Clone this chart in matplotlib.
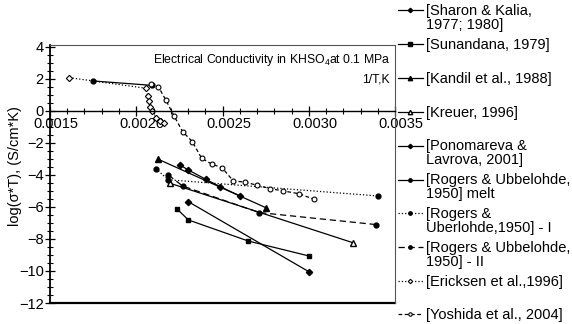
import matplotlib
matplotlib.use('Agg')
import matplotlib.pyplot as plt
import matplotlib.transforms as mtransforms
import numpy as np
from matplotlib.legend_handler import HandlerLine2D
from matplotlib.ticker import MultipleLocator, FormatStrFormatter

plt.rcParams['font.family'] = ['Liberation Sans', 'DejaVu Sans']
plt.rcParams['font.size'] = 10.5

# series (x = 1/T, y = log(sigma*T))
sharon_x = [0.002302, 0.003003]
sharon_y = [-5.67, -10.06]
sunandana_x = [0.002238, 0.002302, 0.002650, 0.003001]
sunandana_y = [-6.14, -6.81, -8.13, -9.06]
kandil_x = [0.002128, 0.002750]
kandil_y = [-3.02, -6.04]
kreuer_x = [0.002196, 0.003255]
kreuer_y = [-4.52, -8.23]
ponomareva_x = [0.002254, 0.002302, 0.002403, 0.002486, 0.002601]
ponomareva_y = [-3.38, -3.69, -4.27, -4.73, -5.31]
melt_x = [0.001747, 0.002090]
melt_y = [1.875, 1.60]
rogers1_x = [0.002113, 0.002186, 0.003400]
rogers1_y = [-3.60, -4.30, -5.31]
rogers2_x = [0.002186, 0.002269, 0.002713, 0.003390]
rogers2_y = [-4.00, -4.69, -6.35, -7.10]
ericksen_x = [0.001612, 0.002055, 0.002066, 0.002072, 0.002080, 0.002090,
              0.002115, 0.002138, 0.002161]
ericksen_y = [2.08, 1.42, 0.94, 0.63, 0.25, 0.0, -0.42, -0.63, -0.77]
yoshida_x = [0.002084, 0.002128, 0.002172, 0.002219, 0.002269, 0.002325,
             0.002379, 0.002439, 0.002497, 0.002563, 0.002630, 0.002702,
             0.002775, 0.002853, 0.002943, 0.003030]
yoshida_y = [1.70, 1.52, 0.67, -0.31, -1.29, -1.92, -2.96, -3.33, -3.54,
             -4.38, -4.44, -4.65, -4.85, -5.00, -5.17, -5.52]

# legend entries get two text lines so they sit evenly spaced
labels = [
    '[Sharon & Kalia,\n1977; 1980]',
    '[Sunandana, 1979]\n',
    '[Kandil et al., 1988]\n',
    '[Kreuer, 1996]\n',
    '[Ponomareva &\nLavrova, 2001]',
    '[Rogers & Ubbelohde,\n1950] melt',
    '[Rogers &\nUberlohde,1950] - I',
    '[Rogers & Ubbelohde,\n1950] - II',
    '[Ericksen et al.,1996]\n',
    '[Yoshida et al., 2004]',
]


class FirstLineHandler(HandlerLine2D):
    """Put the legend handle next to the first line of a two-line label."""

    def create_artists(self, legend, orig_handle, xdescent, ydescent,
                       width, height, fontsize, trans):
        artists = super().create_artists(legend, orig_handle, xdescent, ydescent,
                                         width, height, fontsize, trans)
        for a in artists:
            a.set_ydata(np.asarray(a.get_ydata()) + 0.55 * fontsize)
        return artists


fig = plt.figure(figsize=(5.72, 3.24), dpi=100)
ax = fig.add_axes([0.0874, 0.0648, 0.6032, 0.7963])

k = dict(color='black', lw=0.9, ms=3.5)
series = [
    (sharon_x, sharon_y, dict(ls='-', marker='D', ms=3.2)),
    (sunandana_x, sunandana_y, dict(ls='-', marker='s')),
    (kandil_x, kandil_y, dict(ls='-', marker='^', ms=4.5)),
    (kreuer_x, kreuer_y, dict(ls='-', marker='^', ms=4.5, mfc='white')),
    (ponomareva_x, ponomareva_y, dict(ls='-', marker='D', ms=3.2)),
    (melt_x, melt_y, dict(ls='-', marker='o')),
    (rogers1_x, rogers1_y, dict(ls=':', marker='o')),
    (rogers2_x, rogers2_y, dict(ls=(0, (5, 3)), marker='o')),
    (ericksen_x, ericksen_y, dict(ls=':', marker='D', ms=3.2, mfc='white', mew=0.8)),
    (yoshida_x, yoshida_y, dict(ls=(0, (3, 2)), marker='o', mfc='white', mew=0.8)),
]
handles = []
for (xs, ys, st), lab in zip(series, labels):
    opts = dict(k)
    opts.update(st)
    line, = ax.plot(xs, ys, label=lab, **opts)
    handles.append(line)

ax.set_xlim(0.0015, 0.0035)
ax.set_ylim(-12, 4.12)

# frame: x axis through zero, thin grey top/right, bottom rule at -12
ax.spines['bottom'].set_position(('data', 0))
ax.spines['bottom'].set_linewidth(1.0)
ax.spines['left'].set_linewidth(1.3)
for side in ['top', 'right']:
    ax.spines[side].set_color('#555555')
    ax.spines[side].set_linewidth(0.8)
ax.axhline(-12, color='black', lw=1.6, clip_on=False)

ax.xaxis.set_major_locator(MultipleLocator(0.0005))
ax.xaxis.set_minor_locator(MultipleLocator(0.0001))
ax.xaxis.set_major_formatter(FormatStrFormatter('%.4f'))
ax.yaxis.set_major_locator(MultipleLocator(2))
ax.yaxis.set_minor_locator(MultipleLocator(0.5))
ax.tick_params(which='major', direction='inout', length=7, width=0.9, labelsize=10.5, pad=1)
ax.tick_params(which='minor', direction='inout', length=5, width=0.8)

shift = mtransforms.ScaledTranslation(6 / 100, 0, fig.dpi_scale_trans)
for lbl in ax.get_xticklabels():
    lbl.set_transform(lbl.get_transform() + shift)

ax.set_ylabel('log(σ*T), (S/cm*K)', fontsize=10.5)
ax.yaxis.set_label_coords(-0.08, 0.53)

ax.text(0.986, 0.942, r'Electrical Conductivity in KHSO$_\mathregular{4}$at 0.1 MPa',
        transform=ax.transAxes, ha='right', va='center', fontsize=8.8)
ax.text(0.986, 0.868, '1/T,K', transform=ax.transAxes, ha='right', va='center',
        fontsize=8.8)

leg = ax.legend(handles=handles, loc='upper left', bbox_to_anchor=(398 / 572, 1 - 4 / 324),
                bbox_transform=fig.transFigure, frameon=False, borderpad=0,
                borderaxespad=0, handlelength=1.7, handletextpad=0.2,
                labelspacing=0.4, fontsize=10.5, markerscale=0.7,
                handler_map={h: FirstLineHandler() for h in handles if '\n' in h.get_label()})
for t in leg.get_texts():
    t.set_linespacing(1.0)

fig.savefig('out.png', dpi=100)
